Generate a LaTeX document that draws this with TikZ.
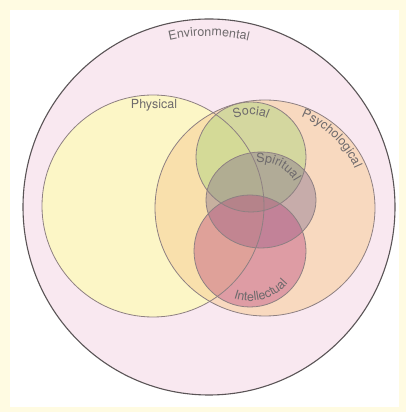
\documentclass[tikz,border=0pt]{standalone}
\usepackage{fontspec}
\setmainfont{TeX Gyre Heros}
\usepackage{tikz}
\usetikzlibrary{decorations.text}
\usepackage{xcolor}
\definecolor{creamframe}{HTML}{FFFBE2}
\definecolor{envfill}{HTML}{F9E8F0}
\definecolor{outerline}{HTML}{5A5456}
\definecolor{ringline}{HTML}{8E8082}
\definecolor{physfill}{HTML}{FCF6C6}
\definecolor{psychfill}{HTML}{F8CE98}
\definecolor{socfill}{HTML}{BCD68A}
\definecolor{spirfill}{HTML}{7E6A8C}
\definecolor{intfill}{HTML}{BC4A80}
\definecolor{lblgray}{HTML}{6E6A6C}

\begin{document}
\begin{tikzpicture}[
  x=1pt, y=1pt,
  ring/.style={draw=ringline, line width=0.8pt},
  lbl/.style={text=lblgray, font=\fontsize{12.5}{14}\selectfont},
  curved/.style={decorate, decoration={text along path, text align=center,
      text={|\fontsize{12.5}{14}\selectfont\color{lblgray}|#1}}}
]
  \useasboundingbox (0,0) rectangle (406,412);
  \fill[creamframe] (0,0) rectangle (406,412);
  \fill[white] (10,5) rectangle (399,402);

  % fills
  \fill[envfill] (209,205) ellipse [x radius=186, y radius=188];
  \fill[physfill] (153,206) circle [radius=111];
  \fill[psychfill, fill opacity=0.55] (265,204) ellipse [x radius=110, y radius=108];
  \fill[socfill, fill opacity=0.6] (251,255) circle [radius=55];
  \fill[spirfill, fill opacity=0.4] (261,212) ellipse [x radius=55, y radius=48];
  \fill[intfill, fill opacity=0.42] (250,161) circle [radius=56];

  % outlines
  \draw[draw=outerline, line width=1.1pt] (209,205) ellipse [x radius=186, y radius=188];
  \draw[ring] (153,206) circle [radius=111];
  \draw[ring] (265,204) ellipse [x radius=110, y radius=108];
  \draw[ring] (251,255) circle [radius=55];
  \draw[ring] (261,212) ellipse [x radius=55, y radius=48];
  \draw[ring] (250,161) circle [radius=56];

  % labels
  \path[curved=Environmental] (209,205) ++(106:171) arc [start angle=106, end angle=74, radius=171];
  \node[lbl] (physical) at (154,307) {Physical};
  \path[curved=Social] (251,255) ++(120:42) arc [start angle=120, end angle=60, radius=42];
  \path[curved=Psychological] (265,204) ++(78:98) arc [start angle=78, end angle=14, radius=98];
  \path[curved=Spiritual] (261,212) ++(108:38) arc [start angle=108, end angle=18, radius=38];
  \path[curved=Intellectual] (250,161) ++(232:50) arc [start angle=232, end angle=338, radius=50];
\end{tikzpicture}
\end{document}
